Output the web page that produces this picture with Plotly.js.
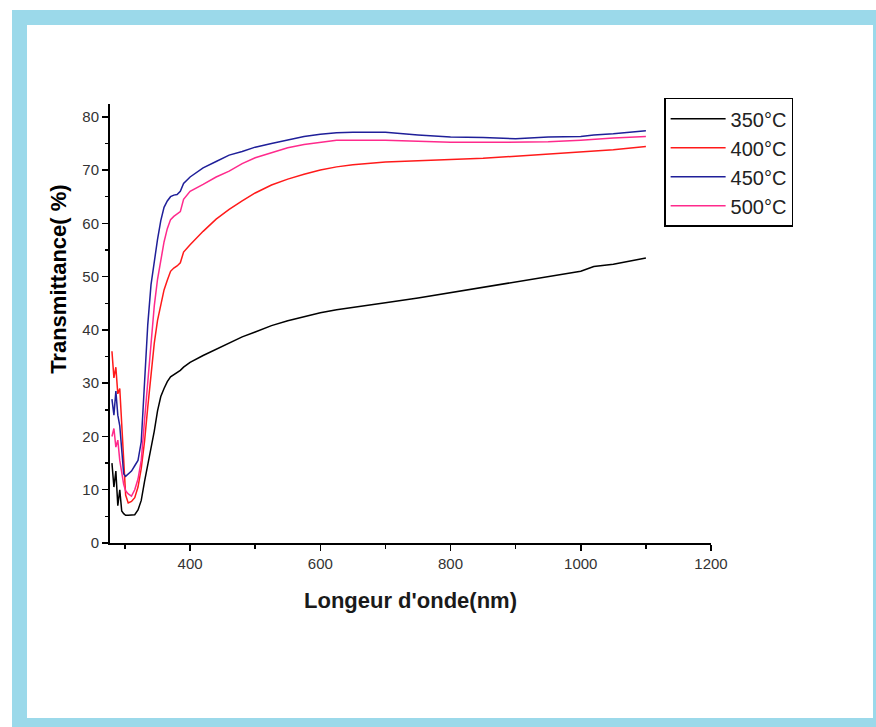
<!DOCTYPE html>
<html>
<head>
<meta charset="utf-8">
<script src="https://cdn.plot.ly/plotly-3.0.1.min.js"></script>
<style>
  html, body { margin: 0; padding: 0; width: 876px; height: 727px; overflow: hidden; background: #ffffff; }
  #chart { position: absolute; left: 0; top: 0; width: 876px; height: 727px; }
  #frame { position: absolute; left: 12px; top: 10px; width: 876px; height: 723px; box-sizing: border-box;
           border: 15px solid #9bd9ea; pointer-events: none; z-index: 5; }
</style>
</head>
<body>
<div id="chart"></div>
<div id="frame"></div>
<script>
// Wavelength grid (nm)
const wavelength = [280, 283, 286, 289, 292, 295, 298, 301, 305, 310, 315, 320, 325, 330, 335, 340, 345, 350, 355, 360, 365, 370, 375, 380, 385, 390, 400, 420, 440, 460, 480, 500, 525, 550, 575, 600, 625, 650, 700, 750, 800, 850, 900, 950, 1000, 1020, 1050, 1100];

// Transmittance (%) per annealing temperature
const t350 = [15, 10.5, 13.5, 7, 10, 6, 5.5, 5.2, 5.2, 5.2, 5.3, 6.2, 8, 11.5, 14.5, 17.5, 21, 24.8, 27.5, 29, 30.3, 31.2, 31.6, 32, 32.4, 33, 33.9, 35.2, 36.4, 37.6, 38.7, 39.6, 40.8, 41.7, 42.5, 43.2, 43.8, 44.2, 45.1, 46, 47, 48, 49, 50, 51, 51.9, 52.3, 53.5];
const t400 = [36, 31, 33, 28, 29, 22, 14, 9, 7.5, 7.8, 8.5, 10.5, 14, 19, 25.5, 32, 37.5, 41.8, 45, 47.5, 49.3, 51, 51.6, 52, 52.6, 54.6, 56, 58.5, 60.8, 62.6, 64.2, 65.7, 67.2, 68.3, 69.2, 70, 70.6, 71, 71.5, 71.7, 71.9, 72.2, 72.6, 73, 73.3, 73.5, 73.8, 74.4];
const t450 = [27, 24, 28.5, 24, 22, 17, 13, 12.5, 13, 13.5, 14.5, 15.5, 19, 30, 41, 48.5, 53, 57, 60.5, 63, 64.2, 65, 65.3, 65.4, 66, 67.5, 68.7, 70.4, 71.6, 72.8, 73.5, 74.3, 75, 75.7, 76.3, 76.7, 77, 77.1, 77.1, 76.6, 76.2, 76.1, 75.9, 76.2, 76.3, 76.6, 76.8, 77.4];
const t500 = [20, 21.5, 18, 19.3, 15.5, 13, 11, 9.8, 9.2, 8.8, 10, 12, 15.5, 23, 30.5, 37, 44.5, 49.5, 53, 56.5, 59, 60.7, 61.3, 61.8, 62.2, 64.5, 66, 67.3, 68.7, 69.8, 71.2, 72.3, 73.3, 74.2, 74.8, 75.2, 75.6, 75.6, 75.6, 75.4, 75.2, 75.2, 75.2, 75.3, 75.6, 75.8, 76, 76.3];

const seriesNames = ['350°C', '400°C', '450°C', '500°C'];
const seriesValues = [t350, t400, t450, t500];
const seriesColors = ['#000000', '#ff1a1a', '#1f1f99', '#ff2a8c'];

const xTicks = [400, 600, 800, 1000, 1200];
const yTicks = [0, 10, 20, 30, 40, 50, 60, 70, 80];

const traces = seriesNames.map((name, i) => ({
  x: wavelength,
  y: seriesValues[i],
  name: name,
  type: 'scatter',
  mode: 'lines',
  legendgroup: 'g' + i,
  line: { color: seriesColors[i], width: 1.5 }
}));

const layout = {
  width: 876,
  height: 727,
  margin: { l: 110, r: 165, t: 104, b: 184 },
  paper_bgcolor: '#ffffff',
  plot_bgcolor: '#ffffff',
  font: { family: 'Liberation Sans, Arial, sans-serif', color: '#000000', size: 12 },
  showlegend: true,
  legend: {
    x: 0.922, y: 1.014, xanchor: 'left', yanchor: 'top',
    bordercolor: '#000000', borderwidth: 1.5, bgcolor: '#ffffff',
    font: { size: 20, color: '#222222' },
    itemwidth: 55,
    tracegroupgap: 1,
    traceorder: 'normal'
  },
  xaxis: {
    range: [277, 1200],
    tickvals: xTicks,
    ticktext: xTicks.map(String),
    showgrid: false, zeroline: false,
    showline: true, linecolor: '#000000', linewidth: 2,
    ticks: 'outside', ticklen: 6, tickwidth: 1.5, tickcolor: '#000000',
    minor: { tickvals: [300, 500, 700, 900, 1100], ticks: 'outside', ticklen: 4, tickwidth: 1.5, tickcolor: '#000000' },
    tickfont: { size: 15, color: '#333333' },
    title: { text: "<b>Longeur d'onde(nm)</b>", font: { size: 22, color: '#1a1a1a', family: 'Liberation Sans, Arial, sans-serif' }, standoff: 22 }
  },
  yaxis: {
    range: [0, 82.4],
    tickvals: yTicks,
    ticktext: yTicks.map(String),
    showgrid: false, zeroline: false,
    showline: true, linecolor: '#000000', linewidth: 2,
    ticks: 'outside', ticklen: 6, tickwidth: 1.5, tickcolor: '#000000',
    minor: { tickvals: [5, 15, 25, 35, 45, 55, 65, 75], ticks: 'outside', ticklen: 3, tickwidth: 1.5, tickcolor: '#000000' },
    tickfont: { size: 15, color: '#333333' },
    title: { text: '' }
  },
  annotations: [{
    text: '<b>Transmittance( %)</b>',
    xref: 'paper', yref: 'paper',
    x: -0.087, y: 0.601,
    xanchor: 'center', yanchor: 'middle',
    textangle: -90, showarrow: false,
    font: { size: 22, color: '#000000', family: 'Liberation Sans, Arial, sans-serif' }
  }]
};

Plotly.newPlot('chart', traces, layout, { displayModeBar: false, staticPlot: true });
</script>
</body>
</html>
